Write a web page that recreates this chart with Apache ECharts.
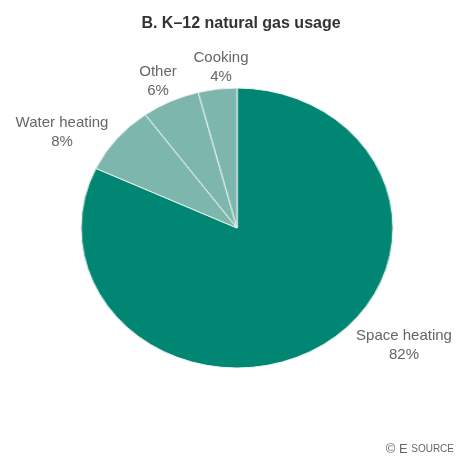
<!DOCTYPE html>
<html>
<head>
<meta charset="utf-8">
<script src="https://cdn.jsdelivr.net/npm/echarts@6/dist/echarts.min.js"></script>
<style>
  html, body { margin: 0; padding: 0; background: #fff; }
  .wrap { position: relative; width: 456px; height: 461px; }
  .layer { position: absolute; left: 0; top: 0; width: 456px; height: 461px; }
  /* pie in the source is an ellipse, so the pie layer is stretched sideways */
  #pie { transform: scaleX(1.114); transform-origin: 237px 228px; }
</style>
</head>
<body>
<div class="wrap">
  <div id="pie" class="layer"></div>
  <div id="text" class="layer"></div>
</div>
<script>
// data
const categories = ["Space heating", "Water heating", "Other", "Cooking"];
const shares = [82, 8, 6, 4];
const colors = ["#008673", "#7cb6ad", "#7cb6ad", "#7cb6ad"];

// label spots (centre of label block), by index
const labelSpots = [[404, 345], [62, 132], [158, 81], [221, 67]];

const font = "'Liberation Sans Narrow', 'Liberation Sans', Arial, sans-serif";

const pieData = categories.map((name, i) => ({
  name: name,
  value: shares[i],
  itemStyle: { color: colors[i] },
}));

const pieChart = echarts.init(document.getElementById("pie"));
pieChart.setOption({
  animation: false,
  series: [
    {
      type: "pie",
      center: [237, 228],
      radius: 140,
      startAngle: 90,
      label: { show: false },
      labelLine: { show: false },
      itemStyle: { borderColor: "#e8f2f0", borderWidth: 1 },
      data: pieData,
    },
  ],
});

// labels sit on a second, see-through pie so the text is not stretched
const textChart = echarts.init(document.getElementById("text"));
textChart.setOption({
  animation: false,
  title: {
    text: "B. K\u201312 natural gas usage",
    left: 236,
    top: 11,
    textAlign: "center",
    textStyle: {
      fontFamily: "'Liberation Sans', Arial, sans-serif",
      fontWeight: "bold",
      fontSize: 16,
      color: "#333",
    },
  },
  graphic: [
    {
      type: "text",
      right: 2,
      top: 443,
      style: {
        text: "{c|\u00a9 E }{s|SOURCE}",
        rich: {
          c: { fontFamily: font, fontSize: 13, fill: "#666" },
          s: { fontFamily: font, fontSize: 10, fill: "#666" },
        },
      },
    },
  ],
  series: [
    {
      type: "pie",
      center: [237, 228],
      radius: 140,
      startAngle: 90,
      silent: true,
      labelLine: { show: false },
      label: {
        show: true,
        formatter: "{b}\n{c}%",
        align: "center",
        overflow: "none",
        width: 140,
        fontFamily: font,
        fontSize: 15,
        lineHeight: 19,
        color: "#666",
      },
      labelLayout: function (p) {
        const s = labelSpots[p.dataIndex];
        return { x: s[0], y: s[1], align: "center", verticalAlign: "middle" };
      },
      data: categories.map((name, i) => ({
        name: name,
        value: shares[i],
        itemStyle: { color: "transparent", borderWidth: 0 },
      })),
    },
  ],
});
</script>
</body>
</html>
